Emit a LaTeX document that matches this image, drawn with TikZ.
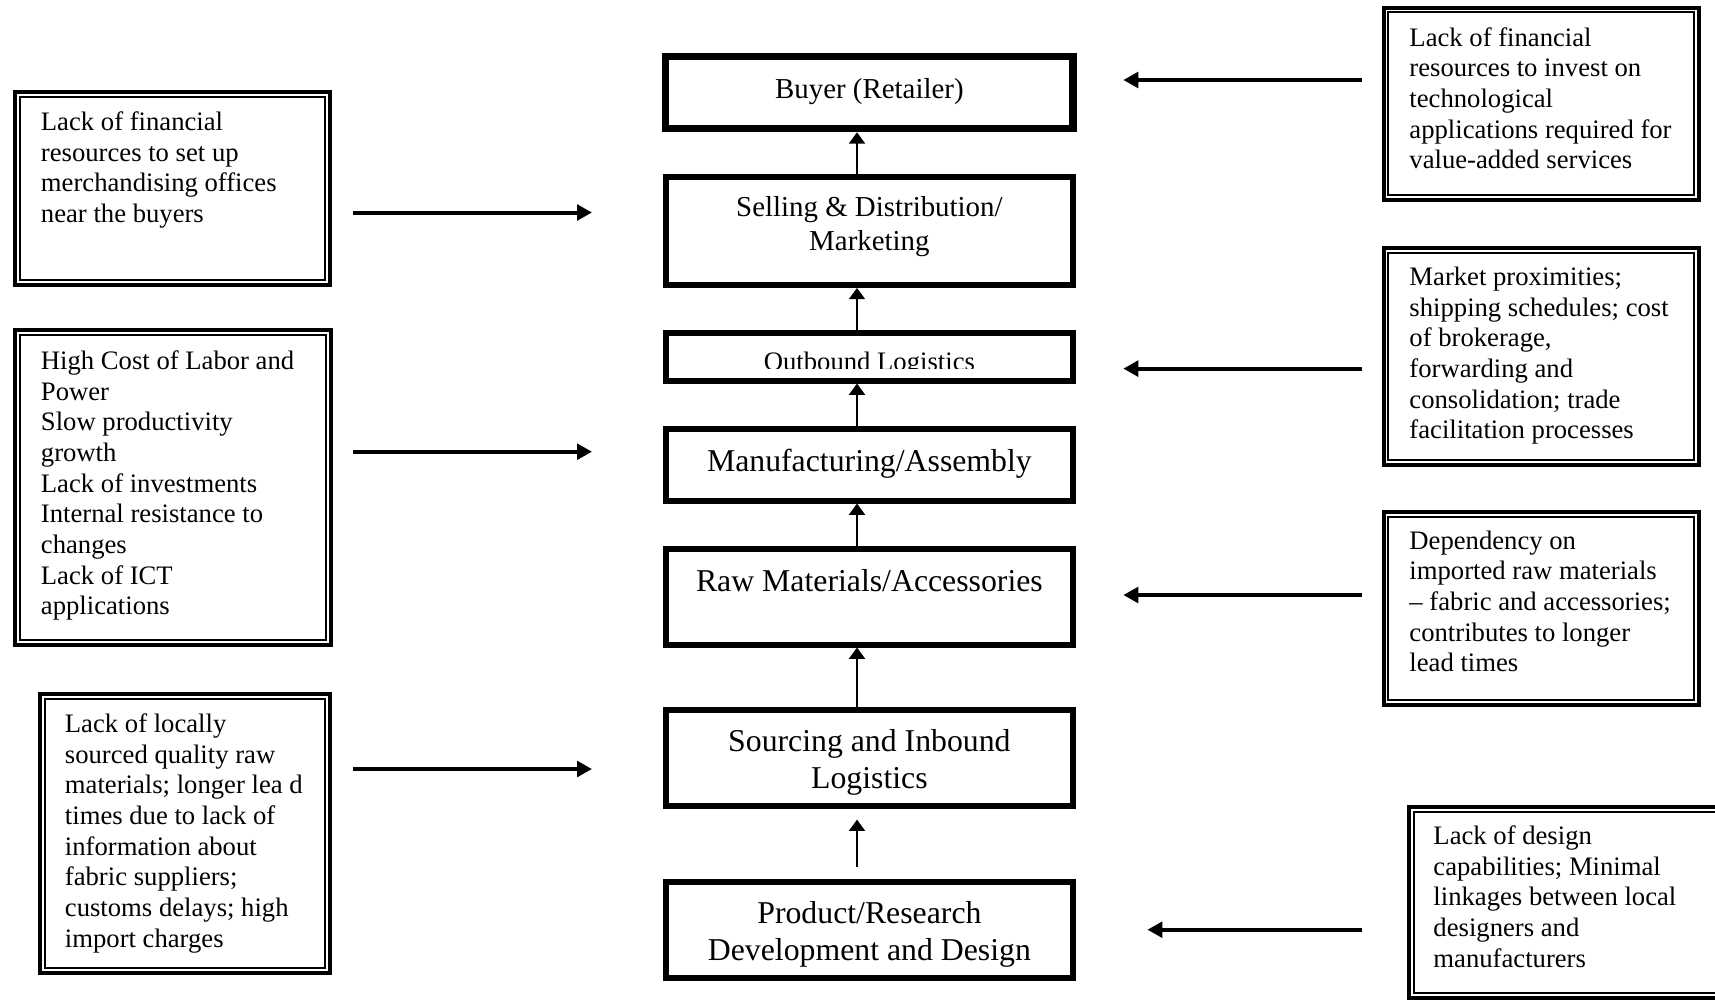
\documentclass[tikz,border=0pt]{standalone}
\usepackage{fontspec}
\setmainfont{Liberation Serif}
\usetikzlibrary{arrows.meta,fit}

\begin{document}
\begin{tikzpicture}[x=0.45pt, y=-0.45pt,
  stage/.style={draw, line width=2.7pt, inner sep=0pt},
  issue/.style={draw, line width=1.8pt, inner sep=0pt},
  stagetext/.style={anchor=base, inner sep=0pt, align=center},
  note/.style={anchor=base west, inner sep=0pt, align=left, font=\fontsize{12}{13.8}\selectfont},
  up/.style={-{Triangle[length=5.1pt,width=7.2pt]}, line width=0.9pt},
  push/.style={-{Triangle[length=6.75pt,width=7pt]}, line width=1.8pt}]
  \clip (0,0) rectangle (1715,999);
  \fill [white] (0,0) rectangle (1715,999);

  \node [stage, line width=3.5pt, fit={(665.5,56.5) (1073.3,128.4)}] (buyer) {};
  \node [stage, fit={(665.5,177.2) (1073.3,284.9)}] (sell) {};
  \node [stage, fit={(665.5,332.9) (1073.3,380.5)}] (outb) {};
  \node [stage, fit={(665.5,428.9) (1073.3,500.5)}] (manuf) {};
  \node [stage, fit={(665.5,548.9) (1073.3,644.5)}] (raw) {};
  \node [stage, fit={(665.5,709.6) (1073.3,805.5)}] (sourc) {};
  \node [stage, fit={(665.5,881.9) (1073.3,977.9)}] (prod) {};

  % multi-line texts sit on the baseline of their last line
  \node [stagetext, font=\fontsize{13}{15.3}\selectfont] (buyertxt) at (869.4,98.3) {Buyer (Retailer)};
  \node [stagetext, font=\fontsize{13}{15.3}\selectfont] (selltxt) at (869.4,250.7) {Selling \& Distribution/\\Marketing};
  \begin{scope}
    \clip (665.5,332.9) rectangle (1073.3,368.3);
    \node [stagetext, font=\fontsize{12}{13.8}\selectfont] (outbtxt) at (869.4,370) {Outbound Logistics};
  \end{scope}
  \node [stagetext, font=\fontsize{14.3}{16.5}\selectfont] (manuftxt) at (869.4,471.7) {Manufacturing/Assembly};
  \node [stagetext, font=\fontsize{14.3}{16.5}\selectfont] (rawtxt) at (869.4,591.7) {Raw Materials/Accessories};
  \node [stagetext, font=\fontsize{14.3}{16.5}\selectfont] (sourctxt) at (869.4,788.3) {Sourcing and Inbound\\Logistics};
  \node [stagetext, font=\fontsize{14.3}{16.5}\selectfont] (prodtxt) at (869.4,960) {Product/Research\\Development and Design};

  \coordinate (ax) at (857,0);
  \draw [up] (ax |- sell.north) -- (ax |- buyer.south);
  \draw [up] (ax |- outb.north) -- (ax |- sell.south);
  \draw [up] (ax |- manuf.north) -- (ax |- outb.south);
  \draw [up] (ax |- raw.north) -- (ax |- manuf.south);
  \draw [up] (ax |- sourc.north) -- (ax |- raw.south);
  \draw [up, shorten <=5.3pt, shorten >=5pt] (ax |- prod.north) -- (ax |- sourc.south);

  \node [issue, fit={(15,92) (330,285)}] (lone) {};
  \node [issue, fit={(15,330) (331,645)}] (ltwo) {};
  \node [issue, fit={(40,694) (330,973)}] (lthree) {};
  \node [issue, fit={(1383.5,7.5) (1699,200)}] (rone) {};
  \node [issue, fit={(1383.5,248) (1699,465)}] (rtwo) {};
  \node [issue, fit={(1383.5,512) (1699,705)}] (rthree) {};
  \node [issue, fit={(1409,807) (1725,998)}] (rfour) {};
  \foreach \n in {lone,ltwo,lthree,rone,rtwo,rthree,rfour}
    \draw [line width=0.9pt] ([shift={(6.7,6.7)}]\n.north west) rectangle ([shift={(-6.7,-6.7)}]\n.south east);

  \node [note] (lonetxt) at (40.5,222.5) {Lack of financial\\resources to set up\\merchandising offices\\near the buyers};
  \node [note] (ltwotxt) at (40.5,614.8) {High Cost of Labor and\\Power\\Slow productivity\\growth\\Lack of investments\\Internal resistance to\\changes\\Lack of ICT\\applications};
  \node [note] (lthreetxt) at (64.5,947.2) {Lack of locally\\sourced quality raw\\materials; longer lea d\\times due to lack of\\information about\\fabric suppliers;\\customs delays; high\\import charges};
  \node [note] (ronetxt) at (1409,168.7) {Lack of financial\\resources to invest on\\technological\\applications required for\\value-added services};
  \node [note] (rtwotxt) at (1409,438.8) {Market proximities;\\shipping schedules; cost\\of brokerage,\\forwarding and\\consolidation; trade\\facilitation processes};
  \node [note] (rthreetxt) at (1409,671.8) {Dependency on\\imported raw materials\\-- fabric and accessories;\\contributes to longer\\lead times};
  \node [note] (rfourtxt) at (1433,967.2) {Lack of design\\capabilities; Minimal\\linkages between local\\designers and\\manufacturers};

  \foreach \i/\y in {1/212.5,2/451.7,3/769}
  {
    \coordinate (ls\i) at (353,\y);
    \coordinate (le\i) at (592,\y);
    \draw [push] (ls\i) -- (le\i);
  }
  \foreach \i/\y/\e in {1/80/1123.3,2/368.6/1123.3,3/595/1123.3,4/929.7/1147.4}
  {
    \coordinate (rs\i) at (1362,\y);
    \coordinate (re\i) at (\e,\y);
    \draw [push] (rs\i) -- (re\i);
  }

\end{tikzpicture}
\end{document}
